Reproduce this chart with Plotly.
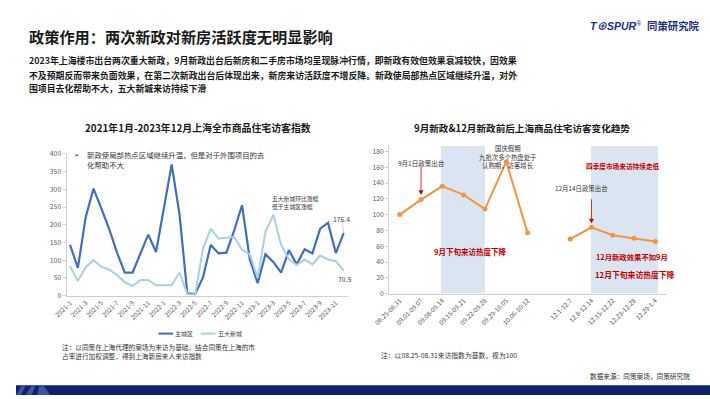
import plotly.graph_objects as go

# ---------------- data ----------------
months = ["2021-1", "2021-2", "2021-3", "2021-4", "2021-5", "2021-6", "2021-7", "2021-8", "2021-9",
          "2021-10", "2021-11", "2021-12", "2022-1", "2022-2", "2022-3", "2022-4", "2022-5", "2022-6",
          "2022-7", "2022-8", "2022-9", "2022-10", "2022-11", "2022-12", "2023-1", "2023-2", "2023-3",
          "2023-4", "2023-5", "2023-6", "2023-7", "2023-8", "2023-9", "2023-10", "2023-11", "2023-12"]
month_ticks = ["2021-1", "2021-3", "2021-5", "2021-7", "2021-9", "2021-11", "2022-1", "2022-3", "2022-5",
               "2022-7", "2022-9", "2022-11", "2023-1", "2023-3", "2023-5", "2023-7", "2023-9", "2023-11"]
main_city = [143, 78, 221, 302, 246, 188, 122, 65, 65, 118, 172, 123, 244, 370, 230, 6, 4, 51,
             143, 119, 121, 184, 255, 102, 35, 117, 95, 65, 128, 88, 131, 119, 189, 205, 120, 176.4]
new_towns = [83, 41, 80, 100, 81, 74, 58, 38, 27, 44, 44, 29, 29, 29, 65, 4, 2, 132,
             189, 161, 163, 165, 129, 116, 50, 180, 228, 143, 102, 86, 102, 88, 113, 102, 97, 70.5]
series_names = ["主城区", "五大新城"]

weeks = ["08.25-08.31", "09.01-09.07", "09.08-09.14", "09.15-09.21", "09.22-09.28", "09.29-10.05",
         "10.06-10.12", " ", "12.1-12.7", "12.8-12.14", "12.15-12.22", "12.23-12.28", "12.29-1.4"]
week_ticks = ["08.25-08.31", "09.01-09.07", "09.08-09.14", "09.15-09.21", "09.22-09.28", "09.29-10.05",
              "10.06-10.12", "12.1-12.7", "12.8-12.14", "12.15-12.22", "12.23-12.28", "12.29-1.4"]
week_index = [100, 119, 136, 125, 107, 167, 77, None, 69, 84, 74, 70, 66]
policy_weeks = ["09.01-09.07", "12.8-12.14"]

# ---------------- helpers ----------------
W, H = 710, 399
def px(x): return x / W
def py(y): return 1 - y / H

FONT = "Noto Sans CJK SC, Noto Sans, sans-serif"
GRAY = "#595959"
AXIS = "#d0d0d0"
RED = "#c00000"
DARK = "#3f70b8"
LIGHT = "#a9d1e3"
ORANGE = "#f39441"

fig = go.Figure()
fig.add_trace(go.Scatter(x=months, y=main_city, mode="lines", name=series_names[0], showlegend=False,
                         line=dict(color=DARK, width=2.2), xaxis="x", yaxis="y"))
fig.add_trace(go.Scatter(x=months, y=new_towns, mode="lines", name=series_names[1], showlegend=False,
                         line=dict(color=LIGHT, width=2), xaxis="x", yaxis="y"))
fig.add_trace(go.Scatter(x=weeks, y=week_index, mode="lines+markers", showlegend=False,
                         line=dict(color=ORANGE, width=2), marker=dict(color=ORANGE, size=5),
                         connectgaps=False, xaxis="x2", yaxis="y2"))

shapes = [
    dict(type="rect", xref="x2", yref="y2", x0=1.93, x1=4.0, y0=0, y1=187,
         fillcolor="#dbe5f2", line=dict(width=0), layer="below"),
    dict(type="rect", xref="x2", yref="y2", x0=8.98, x1=12.13, y0=0, y1=187,
         fillcolor="#dbe5f2", line=dict(width=0), layer="below"),
    # bottom navy band
    dict(type="rect", xref="paper", yref="paper", x0=0, x1=1, y0=0, y1=py(389),
         fillcolor="#0e226e", line=dict(width=0)),
    dict(type="path", xref="paper", yref="paper",
         path=f"M {px(0)},{py(399)} L {px(6)},{py(389)} L {px(10)},{py(389)} L {px(5)},{py(399)} Z",
         fillcolor="#3b55a0", line=dict(width=0)),
    dict(type="path", xref="paper", yref="paper",
         path=f"M {px(10)},{py(399)} L {px(16)},{py(389)} L {px(20)},{py(389)} L {px(16)},{py(399)} Z",
         fillcolor="#3b55a0", line=dict(width=0)),
    dict(type="path", xref="paper", yref="paper",
         path=f"M {px(22)},{py(399)} L {px(24)},{py(389)} L {px(28)},{py(389)} L {px(35)},{py(399)} Z",
         fillcolor="#3b55a0", line=dict(width=0)),
    # legend samples
    dict(type="line", xref="paper", yref="paper", x0=px(145.7), x1=px(160.7), y0=py(336), y1=py(336),
         line=dict(color=DARK, width=2)),
    dict(type="line", xref="paper", yref="paper", x0=px(189), x1=px(204), y0=py(336), y1=py(336),
         line=dict(color=LIGHT, width=2)),
]

# policy arrows pointing at the policy-week points (offsets in data units)
for wk, tip_off, tail_off in [(policy_weeks[0], 6.5, 41.5), (policy_weeks[1], 5.3, 35.4)]:
    i = weeks.index(wk)
    v = week_index[i]
    shapes.append(dict(type="line", xref="x2", yref="y2", x0=i, x1=i, y0=v + tip_off + 4, y1=v + tail_off,
                       line=dict(color=RED, width=0.8)))
    shapes.append(dict(type="path", xref="x2", yref="y2",
                       path=f"M {i - 0.1},{v + tip_off + 5} L {i + 0.1},{v + tip_off + 5} L {i},{v + tip_off} Z",
                       fillcolor=RED, line=dict(color=RED, width=0.5)))

ann = []
def txt(x, y, text, size, color="#262626", bold=False, anchor="left", family=FONT):
    if bold:
        text = "<b>" + text + "</b>"
    ann.append(dict(x=px(x), y=py(y), xref="paper", yref="paper", text=text, showarrow=False,
                    xanchor=anchor, yanchor="middle", align=anchor, borderpad=0,
                    font=dict(family=family, size=size, color=color)))

# headline and body
txt(12, 31, "政策作用：两次新政对新房活跃度无明显影响", 15.2, "#1a1a1a", bold=True)
txt(12, 56, "2023年上海楼市出台两次重大新政，9月新政出台后新房和二手房市场均呈现脉冲行情，即新政有效但效果衰减较快，因效果", 8.9, "#1a1a1a", bold=True)
txt(12, 71, "不及预期反而带来负面效果，在第二次新政出台后体现出来，新房来访活跃度不增反降。新政使局部热点区域继续升温，对外", 8.9, "#1a1a1a", bold=True)
txt(12, 85, "围项目去化帮助不大，五大新城来访持续下滑", 8.9, "#1a1a1a", bold=True)
# logo
ann.append(dict(x=px(586), y=py(20.5), xref="paper", yref="paper", showarrow=False,
                xanchor="left", yanchor="middle", borderpad=0,
                text="<b><i>T⊕SPUR</i></b><sup>®</sup>",
                font=dict(family="Liberation Sans, " + FONT, size=10.5, color="#1c2f86")))
txt(645, 20.5, "同策研究院", 10.4, "#1c2f86", bold=True)

# chart titles
txt(186.5, 125, "2021年1月-2023年12月上海全市商品住宅访客指数", 9.9, "#1a1a1a", bold=True, anchor="center")
txt(517.5, 125.5, "9月新政&12月新政前后上海商品住宅访客变化趋势", 9.6, "#1a1a1a", bold=True, anchor="center")

# left chart notes
txt(58, 152.7, "➢", 6.5, "#333333", family="DejaVu Sans, " + FONT)
txt(71.5, 152.3, "新政使局部热点区域继续升温，但是对于外围项目的去", 7.4, "#333333")
txt(71.5, 162.7, "化帮助不大", 7.4, "#333333")
txt(260.5, 197.3, "五大新城环比涨幅", 5.8, "#333333")
txt(260.5, 205.3, "低于主城区涨幅", 5.8, "#333333")
ann.append(dict(x=months[-1], y=main_city[-1], xref="x", yref="y", text=str(main_city[-1]),
                showarrow=True, ax=-2, ay=-14, arrowhead=0, arrowwidth=0.6, arrowcolor="#a0a0a0",
                borderpad=0, font=dict(family=FONT, size=6.8, color="#404040")))
ann.append(dict(x=months[-1], y=new_towns[-1], xref="x", yref="y", text=str(new_towns[-1]),
                showarrow=False, yshift=-8, xshift=1, borderpad=0,
                font=dict(family=FONT, size=6.8, color="#404040")))
# legend labels
txt(162, 336, series_names[0], 6.0, "#404040")
txt(205.7, 336, series_names[1], 6.0, "#404040")
txt(46.5, 350, "注：以同策在上海代理的案场为来访为基础，结合同策在上海的市", 6.66, "#333333")
txt(46.5, 359.2, "占率进行加权调整，得到上海新房来人来访指数", 6.66, "#333333")

# right chart notes
txt(390, 161, "9月1日政策出台", 6.5, "#333333")
txt(503.3, 146.5, "国庆假期", 6.4, "#333333", anchor="center")
txt(503.3, 155.3, "九批次多个热盘处于", 6.4, "#333333", anchor="center")
txt(503.3, 164.1, "认购期，访客增长", 6.4, "#333333", anchor="center")
txt(582.5, 164, "四季度市场来访持续走低", 6.67, RED, bold=True)
txt(550.5, 187.5, "12月14日政策出台", 6.4, "#333333")
txt(426.5, 252, "9月下旬来访热度下降", 7.5, RED, bold=True)
txt(592, 257, "12月新政效果不如9月", 7.35, RED, bold=True)
txt(591.5, 275, "12月下旬来访热度下降", 7.8, RED, bold=True)
txt(372.5, 358, "注：以08.25-08.31来访指数为基数，视为100", 6.8, "#333333")
txt(586.5, 379, "数据来源：同策案场，同策研究院", 6.66, "#333333")

fig.update_layout(
    width=W, height=H, autosize=False,
    margin=dict(l=0, r=0, t=0, b=0),
    paper_bgcolor="white", plot_bgcolor="rgba(0,0,0,0)",
    font=dict(family=FONT, color=GRAY),
    showlegend=False,
    xaxis=dict(domain=[px(51.7), px(340)], type="category", categoryorder="array", categoryarray=months,
               range=[-0.45, 35.6], tickmode="array", tickvals=month_ticks, ticktext=month_ticks,
               tickangle=-45, tickfont=dict(size=6.5, color=GRAY), showline=True, linecolor=AXIS,
               linewidth=1, showgrid=False, zeroline=False, ticks="", anchor="y"),
    yaxis=dict(domain=[py(297), py(151.7)], range=[0, 400], dtick=50, tick0=0,
               showline=True, linecolor=AXIS, linewidth=1, ticks="outside", ticklen=3, tickcolor=AXIS,
               tickfont=dict(size=6.8, color=GRAY), showgrid=False, zeroline=False, anchor="x"),
    xaxis2=dict(domain=[px(381.7), px(665)], type="category", categoryorder="array", categoryarray=weeks,
                range=[-0.5, 12.5], tickmode="array", tickvals=week_ticks, ticktext=week_ticks,
                tickangle=-45, tickfont=dict(size=6.4, color=GRAY),
                showline=True, linecolor=AXIS, linewidth=1, showgrid=False, zeroline=False,
                ticks="", anchor="y2"),
    yaxis2=dict(domain=[py(295), py(142.7)], range=[0, 188], tickmode="array",
                tickvals=[0, 20, 40, 60, 80, 100, 120, 140, 160, 180],
                showline=True, linecolor=AXIS, linewidth=1, ticks="outside", ticklen=3, tickcolor=AXIS,
                tickfont=dict(size=6.8, color=GRAY), showgrid=False, zeroline=False, anchor="x2"),
    shapes=shapes,
    annotations=ann,
)

fig.write_html("out.html", config={"displayModeBar": False},
               post_script="document.body.style.margin='0';document.body.style.overflow='hidden';")
